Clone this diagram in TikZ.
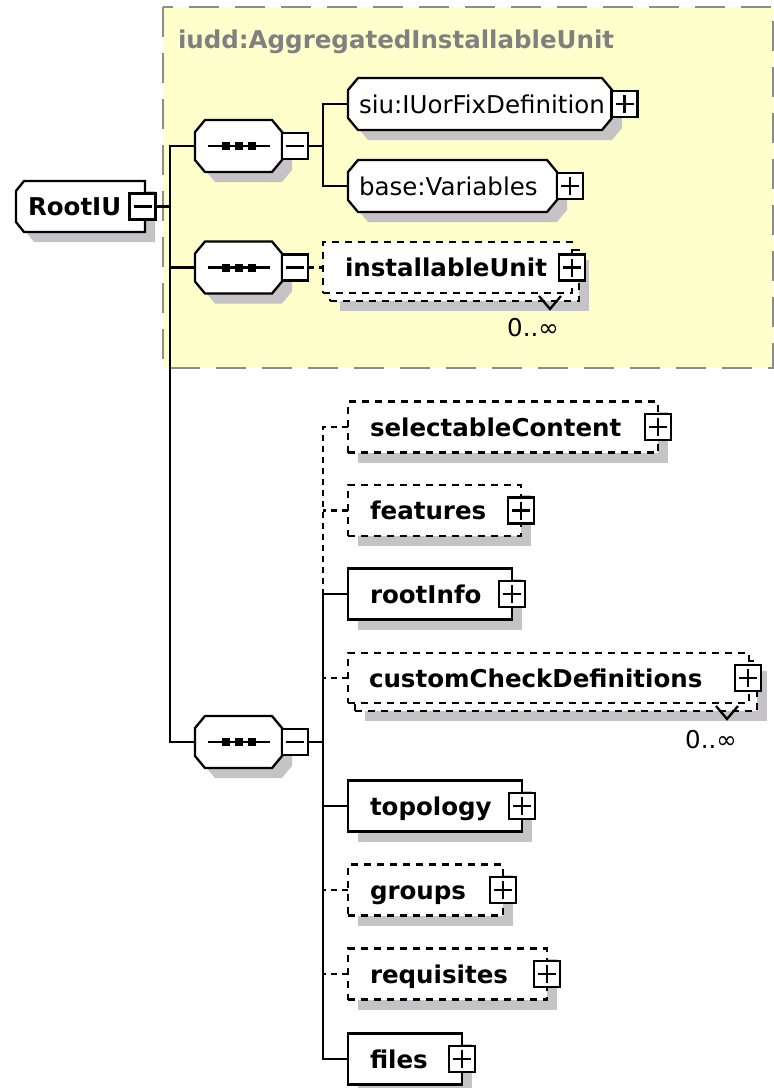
\documentclass[tikz,border=0pt]{standalone}
\usepackage{fontspec}
\setmainfont{DejaVu Sans}
\usetikzlibrary{shadows}
\definecolor{paneyellow}{RGB}{255,255,204}
\definecolor{panegrey}{RGB}{140,140,140}
\definecolor{titlegrey}{RGB}{128,128,128}
\definecolor{shadowgrey}{RGB}{198,195,198}
\tikzset{
  every node/.style={inner sep=0pt, outer sep=0pt},
  shade10/.style={drop shadow={shadow xshift=10pt, shadow yshift=-10pt, fill=shadowgrey, opacity=1}},
  elembox/.style={draw, fill=white, line width=2.3pt, minimum height=51pt, anchor=west, shade10},
  optbox/.style={elembox, dash pattern=on 7pt off 6pt},
  multibox/.style={draw, fill=white, line width=2.3pt, minimum height=51pt, anchor=west, dash pattern=on 7pt off 6pt},
  octnode/.style={minimum height=52pt, anchor=west},
  pmbox/.style={draw, fill=white, minimum size=26pt, line width=2.3pt},
  plusbox/.style={pmbox, path picture={
    \draw[line width=2.3pt] ([xshift=-9pt]path picture bounding box.center) -- ([xshift=9pt]path picture bounding box.center)
      ([yshift=-9pt]path picture bounding box.center) -- ([yshift=9pt]path picture bounding box.center);}},
  minusbox/.style={pmbox, path picture={
    \draw[line width=2.3pt] ([xshift=-9pt]path picture bounding box.center) -- ([xshift=9pt]path picture bounding box.center);}},
  namebold/.style={anchor=base west, font=\fontsize{24.5}{29}\selectfont\bfseries},
  namereg/.style={anchor=base west, font=\fontsize{24.5}{29}\selectfont},
  occurs/.style={anchor=base, font=\fontsize{24.5}{29}\selectfont},
  conn/.style={line width=2.3pt},
  optconn/.style={line width=2.3pt, dash pattern=on 6pt off 5pt},
}
% outline of a box with cut corners, taken from the corners of node #1;
% #2 = left cut width, #3 = right cut width, #4 = cut height, #5/#6 = offset
\newcommand\cutpath[6]{%
  ([xshift=#5+#2,yshift=#6]#1.north west) -- ([xshift=#5-#3,yshift=#6]#1.north east)
  -- ([xshift=#5,yshift=#6-#4]#1.north east) -- ([xshift=#5,yshift=#6+#4]#1.south east)
  -- ([xshift=#5-#3,yshift=#6]#1.south east) -- ([xshift=#5+#2,yshift=#6]#1.south west)
  -- ([xshift=#5,yshift=#6+#4]#1.south west) -- ([xshift=#5,yshift=#6-#4]#1.north west) -- cycle}
% shadow and outline of such a box
\newcommand\cutbox[4]{%
  \fill[shadowgrey] \cutpath{#1}{#2}{#3}{#4}{10pt}{-10pt};
  \draw[line width=2.3pt, fill=white] \cutpath{#1}{#2}{#3}{#4}{0pt}{0pt};}
\begin{document}
\begin{tikzpicture}[x=1pt,y=-1pt]
\useasboundingbox (0,0) rectangle (774,1088);

% model group pane
\path[draw=panegrey, fill=paneyellow, line width=2.3pt, dash pattern=on 30pt off 16pt] (163,7) rectangle (773,368);
\node[namebold, text=titlegrey] (pane-t) at (178,48) {iudd:AggregatedInstallableUnit};

% root element
\node[octnode, minimum width=129pt, minimum height=51pt] (root) at (16,206.5) {};
\cutbox{root}{8pt}{0pt}{10pt}
\node[namebold] (root-t) at (28,215.5) {RootIU};
\node[minusbox] (root-m) at (142.5,206.5) {};

% sequence compositors
\node[octnode, minimum width=87pt] (s1) at (195,146) {};
\node[octnode, minimum width=87pt] (s2) at (195,267.5) {};
\node[octnode, minimum width=87pt] (s3) at (195,742) {};
\foreach \s in {s1,s2,s3} {
  \cutbox{\s}{10pt}{10pt}{12pt}
  \draw[line width=2.3pt] ([xshift=-31pt]\s.center) -- ([xshift=31pt]\s.center);
  \foreach \d in {-13,0,13}
    \fill ([xshift=\d pt]\s.center) +(-4,-4) rectangle +(4,4);
}
\node[minusbox] (s1-m) at (295,146) {};
\node[minusbox] (s2-m) at (295,267.5) {};
\node[minusbox] (s3-m) at (295,742) {};

% group references
\node[octnode, minimum width=264pt] (siu) at (348,104) {};
\cutbox{siu}{10pt}{10pt}{12pt}
\node[namereg] (siu-t) at (359,113) {siu:IUorFixDefinition};
\node[plusbox] (siu-p) at (624.5,104) {};
\node[octnode, minimum width=209pt] (base) at (348,186) {};
\cutbox{base}{10pt}{10pt}{12pt}
\node[namereg] (base-t) at (359,195) {base:Variables};
\node[plusbox] (base-p) at (570,186) {};

% repeated optional element inside the pane
\node[multibox, shade10, minimum width=249pt] (iu-b) at (330,275.5) {};
\node[multibox, minimum width=249pt] (iu) at (323,267.5) {};
\node[namebold] (iu-t) at (345,276.5) {installableUnit};
\node[plusbox] (iu-p) at (572,267.5) {};
\draw[line width=2.3pt] (539,296) -- (550,309) -- (561,296);
\node[occurs] (iu-o) at (533,336) {0..∞};

% children of the last sequence
\node[optbox, minimum width=310pt] (sc) at (348,427) {};
\node[namebold] (sc-t) at (370,436) {selectableContent};
\node[plusbox] (sc-p) at (658,427) {};

\node[optbox, minimum width=173pt] (ft) at (348,510.5) {};
\node[namebold] (ft-t) at (370,519.5) {features};
\node[plusbox] (ft-p) at (521,510.5) {};

\node[elembox, minimum width=164pt] (ri) at (348,594) {};
\node[namebold] (ri-t) at (370,603) {rootInfo};
\node[plusbox] (ri-p) at (512,594) {};

\node[multibox, shade10, minimum width=402pt, minimum height=50pt] (cc-b) at (355,686) {};
\node[multibox, minimum width=401pt, minimum height=50pt] (cc) at (348,678) {};
\node[namebold] (cc-t) at (369,687) {customCheckDefinitions};
\node[plusbox] (cc-p) at (748,678) {};
\draw[line width=2.3pt] (716,706) -- (727,719) -- (738,706);
\node[occurs] (cc-o) at (711,748) {0..∞};

\node[elembox, minimum width=174pt] (tp) at (348,806) {};
\node[namebold] (tp-t) at (370,815) {topology};
\node[plusbox] (tp-p) at (522,806) {};

\node[optbox, minimum width=155pt] (gr) at (348,890) {};
\node[namebold] (gr-t) at (370,899) {groups};
\node[plusbox] (gr-p) at (503,890) {};

\node[optbox, minimum width=199pt] (rq) at (348,974) {};
\node[namebold] (rq-t) at (370,983) {requisites};
\node[plusbox] (rq-p) at (547,974) {};

\node[elembox, minimum width=114pt] (fl) at (348,1059) {};
\node[namebold] (fl-t) at (370,1068) {files};
\node[plusbox] (fl-p) at (462,1059) {};

% junctions
\coordinate (jA) at (170,206.5);
\coordinate (jB) at (323,146);
\coordinate (jC) at (323,742);

% connectors
\draw[conn] (root-m.east) -- (jA);
\draw[conn] (s1.west) -| (jA) |- (s3.west);
\draw[conn] (s2.west) -- (s2.west -| jA);
\draw[conn] (s1-m.east) -- (jB);
\draw[conn] (siu.west) -| (jB) |- (base.west);
\draw[optconn] (s2-m.east) -- (iu.west);
\draw[conn] (s3-m.east) -- (jC);
\draw[optconn] (sc.west) -| (ri.west -| jC);
\draw[optconn] (ft.west) -- (ft.west -| jC);
\draw[conn] (ri.west) -| (jC) |- (fl.west);
\draw[optconn] (cc.west) -- (cc.west -| jC);
\draw[conn] (tp.west) -- (tp.west -| jC);
\draw[optconn] (gr.west) -- (gr.west -| jC);
\draw[optconn] (rq.west) -- (rq.west -| jC);
\end{tikzpicture}
\end{document}
